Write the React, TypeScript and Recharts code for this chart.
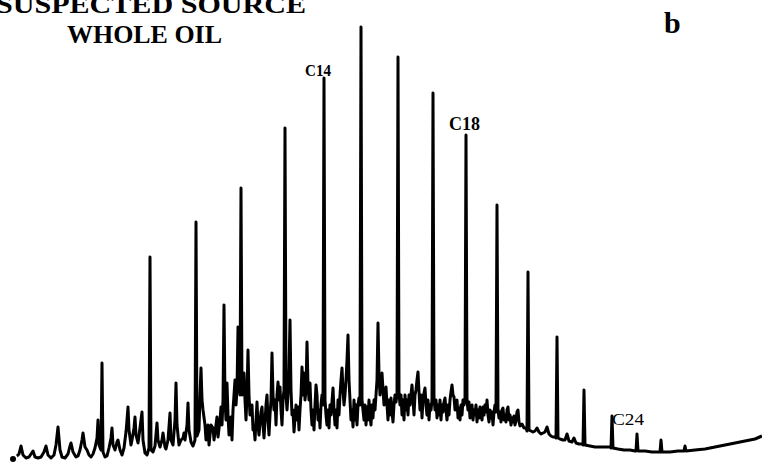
import { LineChart, Line, XAxis, YAxis } from 'recharts'

// n-alkane peaks: [scan, response]
const alkanePeaks: [number, number][] = [
  [102, 101], [150, 207], [196, 242], [241, 276], [285, 336], [324, 386],
  [361, 437], [398, 407], [433, 371], [466, 329], [497, 259], [528, 192],
  [557, 127], [584, 74], [612, 48], [637, 30], [661, 24], [685, 18],
]

// light end of the trace (scans 13-149)
const lightEnd: [number, number][] = [
  [13, 5], [16, 7], [19, 10], [21, 18], [23, 9], [26, 6], [29, 7], [31, 10], [33, 13], [35, 7],
  [38, 6], [41, 7], [44, 12], [46, 18], [48, 9], [51, 6], [54, 9], [56, 19], [58, 37], [60, 14],
  [62, 7], [65, 6], [68, 10], [70, 18], [71, 21], [73, 12], [76, 7], [78, 8], [80, 14], [82, 24],
  [83, 31], [85, 17], [87, 14], [89, 9], [91, 7], [93, 10], [95, 16], [97, 26], [98, 44], [99, 19],
  [101, 14], [103, 12], [105, 7], [107, 8], [109, 16], [111, 26], [112, 36], [113, 19], [115, 14],
  [117, 22], [118, 24], [120, 14], [122, 9], [124, 16], [126, 32], [127, 44], [128, 57], [129, 34],
  [131, 19], [132, 24], [134, 36], [135, 47], [136, 29], [138, 21], [140, 36], [142, 52], [143, 24],
  [145, 11], [147, 9], [149, 16],
]

// unresolved hump, middle of the run (scans 151-296)
const midRange: [number, number][] = [
  [151, 14], [153, 12], [155, 18], [157, 41], [158, 24], [160, 17], [162, 24], [163, 31], [165, 17],
  [166, 15], [168, 24], [170, 51], [171, 24], [173, 19], [175, 44], [176, 81], [177, 39], [179, 19],
  [181, 24], [183, 26], [184, 31], [185, 24], [187, 39], [188, 61], [189, 34], [191, 22], [193, 18],
  [195, 24], [197, 28], [199, 34], [200, 69], [201, 96], [202, 64], [203, 54], [205, 39], [206, 24],
  [208, 39], [209, 19], [211, 39], [213, 36], [214, 24], [216, 39], [217, 47], [218, 27], [220, 44],
  [221, 57], [222, 39], [223, 64], [224, 159], [225, 64], [226, 44], [227, 81], [228, 49], [229, 29],
  [231, 47], [232, 24], [233, 54], [235, 84], [236, 59], [237, 74], [238, 137], [239, 84], [240, 69],
  [242, 69], [244, 91], [245, 64], [246, 44], [247, 69], [248, 114], [249, 69], [250, 49], [252, 59],
  [253, 34], [254, 37], [255, 24], [257, 62], [258, 39], [259, 29], [261, 52], [262, 57], [263, 39],
  [264, 26], [266, 59], [267, 69], [268, 44], [269, 29], [270, 49], [271, 64], [272, 111], [273, 69],
  [274, 54], [275, 64], [276, 39], [277, 69], [278, 82], [279, 64], [280, 77], [281, 54], [282, 39],
  [283, 64], [284, 74], [286, 69], [287, 54], [288, 69], [289, 94], [290, 144], [291, 74], [292, 49],
  [293, 54], [294, 32], [296, 59],
]

// top of the hump (scans 297-465)
const humpTop: [number, number][] = [
  [297, 44], [298, 57], [299, 34], [300, 54], [301, 69], [302, 97], [303, 69], [304, 91], [305, 64],
  [306, 74], [307, 122], [308, 79], [309, 64], [310, 81], [311, 54], [312, 39], [313, 54], [314, 34],
  [315, 59], [316, 79], [317, 69], [318, 44], [319, 54], [320, 36], [321, 59], [322, 69], [323, 59],
  [325, 64], [326, 49], [327, 39], [328, 54], [329, 36], [330, 59], [331, 49], [333, 76], [334, 54],
  [335, 39], [336, 54], [337, 36], [338, 64], [339, 49], [340, 69], [341, 84], [342, 96], [343, 74],
  [344, 59], [345, 69], [346, 84], [347, 104], [348, 129], [349, 84], [350, 64], [351, 44], [352, 54],
  [353, 37], [354, 64], [355, 44], [356, 59], [357, 39], [358, 59], [359, 66], [360, 59], [362, 64],
  [363, 54], [364, 44], [365, 59], [366, 39], [367, 57], [368, 44], [369, 64], [370, 49], [371, 39],
  [372, 59], [373, 46], [374, 64], [375, 54], [376, 69], [377, 84], [378, 141], [379, 89], [380, 69],
  [381, 79], [382, 91], [383, 74], [384, 59], [385, 69], [386, 77], [387, 59], [388, 44], [389, 64],
  [390, 49], [391, 66], [392, 52], [393, 42], [394, 59], [395, 69], [396, 62], [397, 69], [399, 72],
  [400, 59], [401, 69], [402, 49], [403, 64], [404, 44], [405, 69], [406, 54], [407, 64], [408, 49],
  [409, 69], [410, 59], [411, 69], [412, 79], [413, 64], [414, 49], [415, 69], [416, 74], [417, 84],
  [418, 92], [419, 72], [420, 54], [421, 69], [422, 46], [423, 64], [424, 71], [425, 76], [426, 59],
  [427, 49], [428, 64], [429, 44], [430, 59], [431, 54], [432, 64], [434, 66], [435, 54], [436, 64],
  [437, 46], [438, 59], [439, 49], [440, 64], [441, 44], [442, 59], [443, 52], [444, 62], [445, 66],
  [446, 54], [447, 44], [448, 59], [449, 49], [450, 64], [451, 72], [452, 79], [453, 69], [454, 67],
  [455, 54], [456, 62], [457, 64], [458, 46], [459, 56], [460, 44], [461, 59], [462, 49], [463, 64],
  [464, 59], [465, 66],
]

// heavy end (scans 467-762)
const heavyEnd: [number, number][] = [
  [467, 64], [468, 54], [469, 62], [470, 46], [471, 56], [472, 59], [473, 44], [474, 54], [475, 49],
  [476, 59], [477, 42], [478, 54], [479, 46], [480, 57], [481, 52], [482, 44], [483, 57], [484, 49],
  [485, 59], [486, 52], [487, 64], [488, 49], [489, 42], [490, 54], [491, 46], [492, 52], [493, 39],
  [494, 52], [495, 59], [496, 52], [498, 54], [499, 46], [500, 52], [501, 42], [502, 54], [503, 56],
  [504, 44], [505, 49], [506, 42], [507, 54], [508, 57], [509, 44], [510, 49], [511, 39], [512, 46],
  [513, 42], [514, 48], [515, 39], [516, 44], [517, 52], [518, 54], [519, 42], [520, 38], [522, 40],
  [524, 36], [526, 36], [527, 33], [529, 34], [531, 33], [533, 32], [535, 33], [537, 36], [539, 32],
  [541, 30], [543, 31], [545, 32], [547, 37], [549, 30], [551, 28], [553, 27], [555, 27], [556, 26],
  [558, 26], [560, 25], [563, 24], [565, 24], [567, 30], [569, 23], [572, 22], [574, 26], [576, 21],
  [579, 20], [582, 20], [583, 19], [585, 19], [590, 18], [595, 17], [600, 17], [605, 17], [610, 17],
  [611, 16], [613, 16], [618, 15], [624, 14], [630, 14], [635, 13], [636, 13], [638, 13], [645, 13],
  [652, 12], [658, 12], [660, 12], [662, 12], [670, 12], [678, 13], [684, 13], [686, 13], [695, 14],
  [705, 15], [715, 17], [725, 19], [735, 21], [745, 23], [755, 25], [762, 28],
]

const trace = [...lightEnd, ...midRange, ...humpTop, ...heavyEnd, ...alkanePeaks]
  .sort((a, b) => a[0] - b[0])
  .map(([scan, response]) => ({ scan, response }))

const serif = '"Liberation Serif", "Times New Roman", serif'

export default function App() {
  return (
    <div style={{ position: 'absolute', left: 0, top: 0, width: 762, height: 464, background: '#fff' }}>
      <LineChart width={762} height={464} data={trace} margin={{ top: 0, right: 0, bottom: 0, left: 0 }}>
        <XAxis dataKey="scan" type="number" domain={[0, 762]} hide />
        <YAxis type="number" domain={[0, 464]} hide />
        <Line
          type="linear"
          dataKey="response"
          stroke="#000"
          strokeWidth={3}
          strokeLinejoin="round"
          dot={false}
          isAnimationActive={false}
        />
      </LineChart>

      {/* titles and peak labels */}
      <svg width={762} height={464} style={{ position: 'absolute', left: 0, top: 0, pointerEvents: 'none' }}>
        <g fontFamily={serif} fontWeight="bold" fill="#000">
          <text x={-4} y={13} fontSize={26} textLength={310} lengthAdjust="spacingAndGlyphs">SUSPECTED SOURCE</text>
          <text x={67} y={43} fontSize={26} textLength={155} lengthAdjust="spacingAndGlyphs">WHOLE OIL</text>
          <text x={664} y={33} fontSize={30}>b</text>
          <text x={305} y={76} fontSize={17} textLength={26} lengthAdjust="spacingAndGlyphs">C14</text>
          <text x={449} y={130} fontSize={19} textLength={31} lengthAdjust="spacingAndGlyphs">C18</text>
        </g>
        <text x={612} y={425} fontFamily={serif} fontSize={16} textLength={32} lengthAdjust="spacingAndGlyphs">C24</text>
      </svg>
    </div>
  )
}
